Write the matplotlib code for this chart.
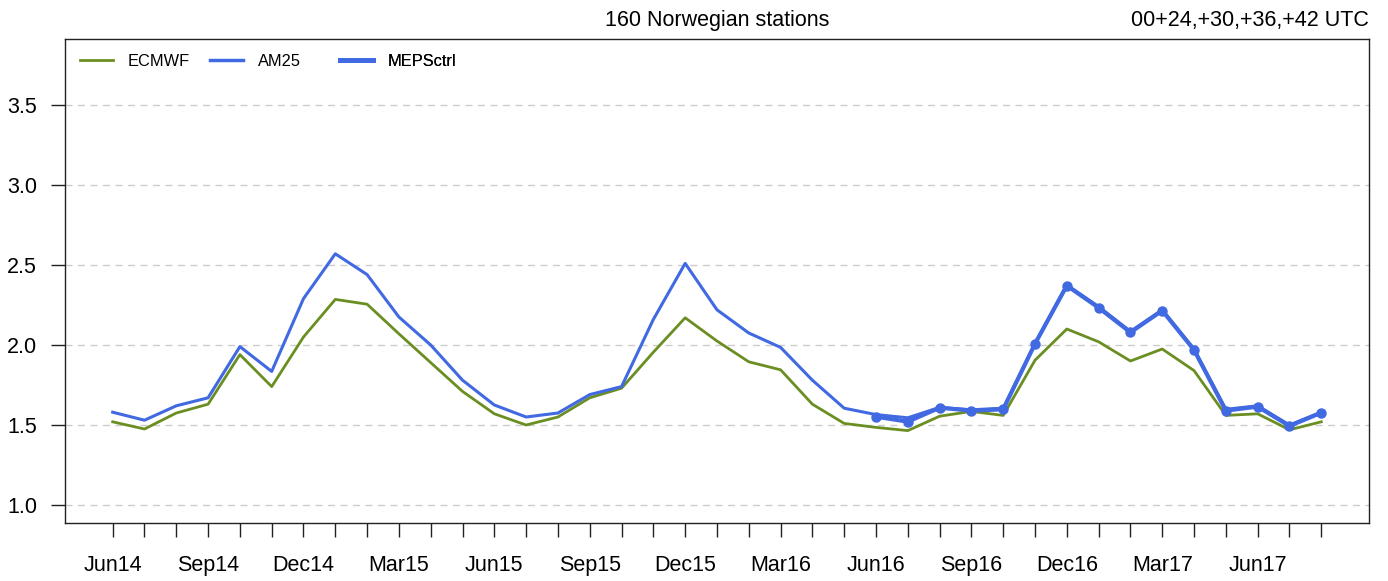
import matplotlib.pyplot as plt
import numpy as np
from matplotlib.lines import Line2D

plt.rcParams["font.family"] = ["Liberation Sans", "DejaVu Sans"]

months = [
    "Jun14", "Jul14", "Aug14", "Sep14", "Oct14", "Nov14", "Dec14", "Jan15",
    "Feb15", "Mar15", "Apr15", "May15", "Jun15", "Jul15", "Aug15", "Sep15",
    "Oct15", "Nov15", "Dec15", "Jan16", "Feb16", "Mar16", "Apr16", "May16",
    "Jun16", "Jul16", "Aug16", "Sep16", "Oct16", "Nov16", "Dec16", "Jan17",
    "Feb17", "Mar17", "Apr17", "May17", "Jun17", "Jul17", "Aug17",
]

ecmwf = [
    1.52, 1.475, 1.575, 1.63, 1.94, 1.74, 2.05, 2.285,
    2.255, 2.07, 1.89, 1.71, 1.57, 1.50, 1.55, 1.67,
    1.73, 1.955, 2.17, 2.025, 1.895, 1.845, 1.63, 1.51,
    1.485, 1.465, 1.555, 1.585, 1.56, 1.905, 2.10, 2.02,
    1.90, 1.975, 1.84, 1.56, 1.57, 1.47, 1.52,
]

am25 = [
    1.58, 1.53, 1.62, 1.67, 1.99, 1.835, 2.29, 2.57,
    2.44, 2.175, 2.0, 1.78, 1.625, 1.55, 1.575, 1.69,
    1.74, 2.16, 2.51, 2.22, 2.075, 1.985, 1.78, 1.605,
    1.565, 1.545, 1.61, 1.595, 1.605, 2.01, 2.375, 2.24,
    2.085, 2.22, 1.975, 1.598, 1.62, 1.50, 1.58,
]

# MEPS control run only available from Jun16 onwards
meps_start = "Jun16"
mepsctrl = [
    1.552, 1.521, 1.608, 1.59, 1.598, 2.008, 2.371, 2.233,
    2.079, 2.215, 1.969, 1.59, 1.615, 1.494, 1.577,
]

GREEN = "#6B8E23"
BLUE = "#4169E1"

x = np.arange(len(months))
x_meps = x[months.index(meps_start):]

fig = plt.figure(figsize=(13.88, 5.81), dpi=100)
ax = fig.add_axes([0.0468, 0.0998, 0.9395, 0.8331])

ax.plot(x, ecmwf, color=GREEN, lw=2.0, zorder=3)
ax.plot(x, am25, color=BLUE, lw=2.2, zorder=3)
ax.plot(x_meps, mepsctrl, color=BLUE, lw=3.0, marker="o", ms=6.5, zorder=4)

ax.set_xlim(-1.5, 39.5)
ax.set_ylim(0.8875, 3.9125)

yticks = [1.0, 1.5, 2.0, 2.5, 3.0, 3.5]
ax.set_yticks(yticks)
ax.set_yticklabels([f"{v:.1f}" for v in yticks])
for v in yticks:
    ax.axhline(v, color="#cccccc", lw=1.0, ls=(0, (5, 4)), zorder=1)

ax.set_xticks(x)
ax.set_xticklabels([m if i % 3 == 0 else "" for i, m in enumerate(months)])

ax.tick_params(axis="both", direction="out", length=10, width=1.0,
               labelsize=15.5, color="#222222")
ax.tick_params(axis="x", pad=13)
ax.tick_params(axis="y", pad=10)
for sp in ax.spines.values():
    sp.set_linewidth(1.0)
    sp.set_color("#222222")

ax.set_title("160 Norwegian stations", fontsize=15.5, pad=9)
ax.set_title("00+24,+30,+36,+42 UTC", fontsize=15.5, pad=9, loc="right")

# legend entries laid out in equal-width columns across the top
entries = [("ECMWF", GREEN, 2.0), ("AM25", BLUE, 2.5), ("MEPSctrl", BLUE, 3.5)]
for i, (name, col, lw) in enumerate(entries):
    leg = ax.legend([Line2D([], [], color=col, lw=lw)], [name],
                    loc="upper left", bbox_to_anchor=(0.0115 + 0.0997 * i, 0.969),
                    frameon=False, fontsize=11.8, handlelength=2.0,
                    handletextpad=0.9, borderpad=0, borderaxespad=0)
    ax.add_artist(leg)

fig.savefig("out.png", dpi=100)
